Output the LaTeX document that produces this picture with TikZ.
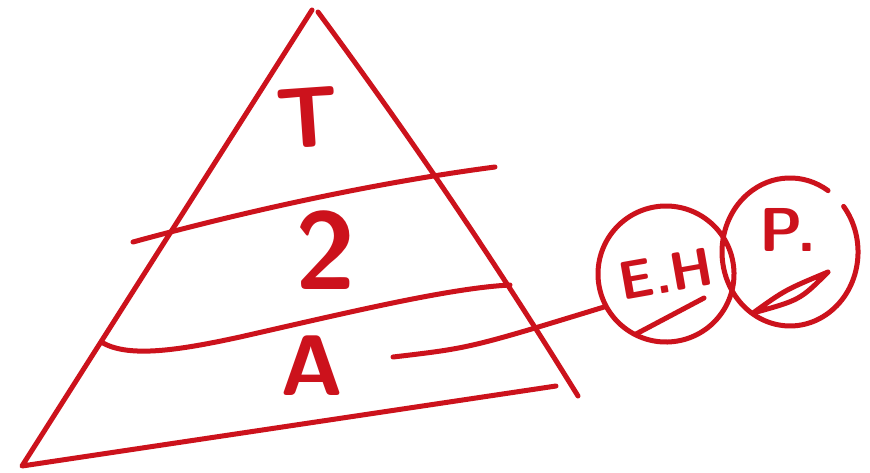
\documentclass[tikz,border=0pt]{standalone}
\usepackage{fontspec}
\definecolor{pen}{RGB}{204,18,28}
\begin{document}
\begin{tikzpicture}[x=1pt,y=-1pt,
  stroke/.style={draw=pen, line width=5pt, line cap=round, line join=round},
  lbl/.style={text=pen, font=\fontsize{86}{90}\selectfont\sffamily\bfseries, inner sep=0pt},
  small/.style={text=pen, font=\fontsize{62}{66}\selectfont\sffamily\bfseries, inner sep=0pt},
  ring/.style={stroke, circle, minimum size=136pt, inner sep=0pt, text=pen,
    font=\fontsize{54}{58}\selectfont\sffamily\bfseries}]
\useasboundingbox[fill=white] (0,0) rectangle (870,472);
% triangle
\coordinate (apex) at (312,10);
\coordinate (apexr) at (318,12);
\coordinate (bl) at (22,466);
\coordinate (br) at (556,386);
\coordinate (rr) at (578,396);
\draw[stroke] (apex) -- (bl) -- (br);
\draw[stroke] (apexr) .. controls (420,150) and (500,270) .. (rr);
% layer lines
\coordinate (l1a) at (133,242);
\coordinate (l1b) at (495,167);
\draw[stroke] (l1a) .. controls (250,210) and (380,182) .. (l1b);
\coordinate (l2a) at (103,343);
\coordinate (l2b) at (510,285);
\draw[stroke] (l2a) .. controls (130,358) and (180,350) .. (240,337)
               .. controls (350,312) and (450,288) .. (l2b);
% labels
\node[lbl, rotate=4] (t) at (308,118) {T};
\node[lbl, font=\fontsize{110}{114}\selectfont\sffamily\bfseries] (r) at (326,250) {2};
\node[lbl] (a) at (312,366) {A};
% circles
\node[ring, rotate=10] (eh) at (666,274) {E.H};
\draw[stroke] (636,334) -- (704,298);
\node[small] (p) at (788,230) {P.};
\draw[stroke] (843.6,206.4) arc[start angle=-38, end angle=304, x radius=68, y radius=74];
\draw[stroke] (753,313) .. controls (785,290) .. (828,272) .. controls (800,300) .. (753,313);
% connector
\coordinate (cst) at (393,357);
\draw[stroke] (cst) .. controls (470,348) .. (eh.198);
\end{tikzpicture}
\end{document}
